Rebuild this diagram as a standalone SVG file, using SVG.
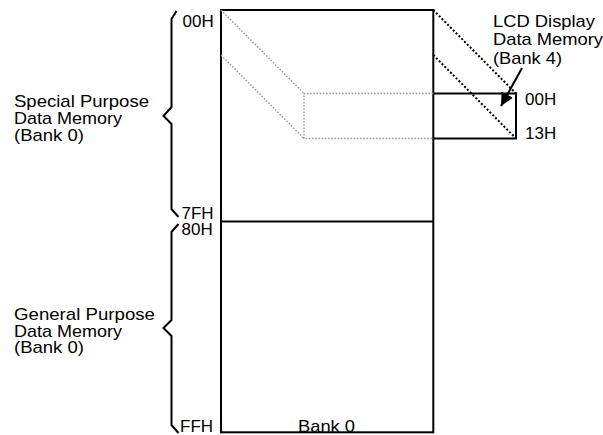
<svg xmlns="http://www.w3.org/2000/svg" width="603" height="435" viewBox="0 0 603 435">
<style>
text{font-family:"Liberation Sans",Arial,sans-serif;font-size:17px;fill:#000}
.solid{fill:none;stroke:#000;stroke-width:2}
.brace{fill:none;stroke:#000;stroke-width:2;stroke-linejoin:miter}
.dotk{fill:none;stroke:#000;stroke-width:2;stroke-dasharray:2,2}
.dotg{fill:none;stroke:#9a9a9a;stroke-width:1.4;stroke-dasharray:1.6,1.6}
</style>
<defs>
<marker id="ah" viewBox="0 0 10 10" refX="10" refY="5" markerWidth="6.5" markerHeight="6.5" orient="auto" markerUnits="strokeWidth">
<path d="M0,0 L10,5 L0,10 z" fill="#000"/>
</marker>
</defs>
<rect width="603" height="435" fill="#fff"/>

<g id="bank0">
<rect class="solid" x="221" y="10" width="212.3" height="422.3"/>
<line class="solid" x1="221" y1="221.5" x2="433.3" y2="221.5"/>
<text x="298" y="432" textLength="57" lengthAdjust="spacingAndGlyphs">Bank 0</text>
</g>

<g id="addresses">
<text x="182.5" y="26.5">00H</text>
<text x="181.5" y="219">7FH</text>
<text x="181.5" y="235">80H</text>
<text x="180" y="431.5">FFH</text>
</g>

<g id="special-purpose">
<path class="brace" d="M176.5,11 L171.5,19 L171.5,107 L163.5,116 L171.5,124 L171.5,209 L178.5,217"/>
<text x="14" y="106.7" textLength="135" lengthAdjust="spacingAndGlyphs">Special Purpose</text>
<text x="14" y="123.5" textLength="108" lengthAdjust="spacingAndGlyphs">Data Memory</text>
<text x="14" y="140.5" textLength="70" lengthAdjust="spacingAndGlyphs">(Bank 0)</text>
</g>

<g id="general-purpose">
<path class="brace" d="M178.5,224 L171.5,232 L171.5,320 L163.5,328 L171.5,336 L171.5,425 L178.5,433"/>
<text x="14" y="320" textLength="141" lengthAdjust="spacingAndGlyphs">General Purpose</text>
<text x="14" y="336.7" textLength="108" lengthAdjust="spacingAndGlyphs">Data Memory</text>
<text x="14" y="353.3" textLength="70" lengthAdjust="spacingAndGlyphs">(Bank 0)</text>
</g>

<g id="lcd-memory">
<polyline class="solid" points="433.3,93.5 516,93.5 516,138.5 433.3,138.5"/>
<polyline class="dotg" points="433.3,93.5 304,93.5 304,138.5 433.3,138.5"/>
<text x="525" y="105">00H</text>
<text x="525" y="139">13H</text>
<text x="493" y="26.7" textLength="102" lengthAdjust="spacingAndGlyphs">LCD Display</text>
<text x="493" y="45" textLength="110" lengthAdjust="spacingAndGlyphs">Data Memory</text>
<text x="493" y="63.5" textLength="69" lengthAdjust="spacingAndGlyphs">(Bank 4)</text>
</g>

<g id="connectors">
<line class="dotg" x1="221" y1="10" x2="304" y2="93.5"/>
<line class="dotg" x1="221" y1="55" x2="304" y2="138.5"/>
<line class="dotk" x1="433.3" y1="10" x2="516" y2="93.5"/>
<line class="dotk" x1="433.3" y1="55" x2="516" y2="138.5"/>
<line x1="522" y1="68" x2="501" y2="106" stroke="#000" stroke-width="2" marker-end="url(#ah)"/>
</g>
</svg>
